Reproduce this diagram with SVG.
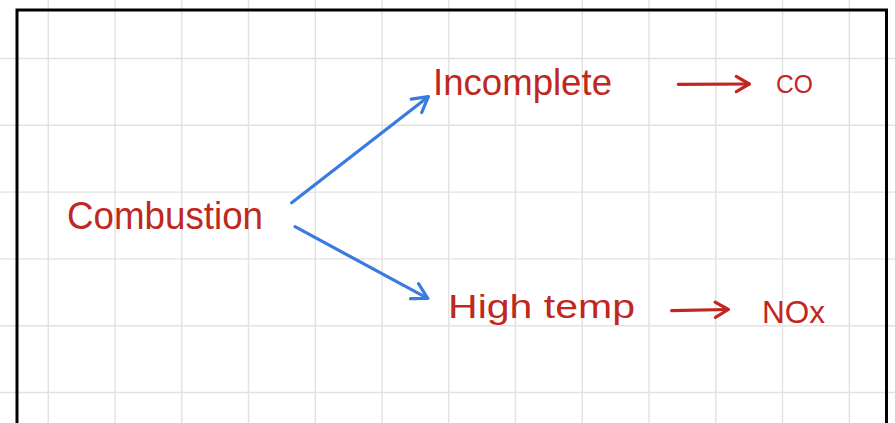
<svg xmlns="http://www.w3.org/2000/svg" width="895" height="423" viewBox="0 0 895 423">
  <style>
    .grid line { stroke: #e2e2e2; stroke-width: 1.4; }
    .lbl { fill: #c0281f; font-family: "Liberation Sans", Arial, sans-serif; }
    .blue { stroke: #3a7be0; stroke-width: 3.2; fill: none; stroke-linecap: round; stroke-linejoin: round; }
    .red { stroke: #c0281f; stroke-width: 3.2; fill: none; stroke-linecap: round; stroke-linejoin: round; }
  </style>
  <defs>
    <marker id="headBlue" markerUnits="userSpaceOnUse" orient="auto" markerWidth="40" markerHeight="40" refX="0" refY="0" viewBox="-20 -20 40 40" overflow="visible">
      <path d="M-15,-8.5 L0,0 L-15,8.5" fill="none" stroke="#3a7be0" stroke-width="3.2" stroke-linecap="round" stroke-linejoin="round"/>
    </marker>
    <marker id="headRed" markerUnits="userSpaceOnUse" orient="auto" markerWidth="40" markerHeight="40" refX="0" refY="0" viewBox="-20 -20 40 40" overflow="visible">
      <path d="M-13,-7.6 L0,0 L-13,7.6" fill="none" stroke="#c0281f" stroke-width="3.2" stroke-linecap="round" stroke-linejoin="round"/>
    </marker>
  </defs>
  <rect x="0" y="0" width="895" height="423" fill="#ffffff"/>
  <g class="grid">
    <line x1="48.3" y1="0" x2="48.3" y2="423"/>
    <line x1="115" y1="0" x2="115" y2="423"/>
    <line x1="181.8" y1="0" x2="181.8" y2="423"/>
    <line x1="248.5" y1="0" x2="248.5" y2="423"/>
    <line x1="315.3" y1="0" x2="315.3" y2="423"/>
    <line x1="382" y1="0" x2="382" y2="423"/>
    <line x1="448.8" y1="0" x2="448.8" y2="423"/>
    <line x1="515.5" y1="0" x2="515.5" y2="423"/>
    <line x1="582.3" y1="0" x2="582.3" y2="423"/>
    <line x1="649" y1="0" x2="649" y2="423"/>
    <line x1="715.8" y1="0" x2="715.8" y2="423"/>
    <line x1="782.5" y1="0" x2="782.5" y2="423"/>
    <line x1="849.3" y1="0" x2="849.3" y2="423"/>
    <line x1="0" y1="58.5" x2="895" y2="58.5"/>
    <line x1="0" y1="125.3" x2="895" y2="125.3"/>
    <line x1="0" y1="192.1" x2="895" y2="192.1"/>
    <line x1="0" y1="258.9" x2="895" y2="258.9"/>
    <line x1="0" y1="325.7" x2="895" y2="325.7"/>
    <line x1="0" y1="392.5" x2="895" y2="392.5"/>
  </g>
  <rect x="17" y="10" width="869.5" height="430" fill="none" stroke="#000000" stroke-width="3"/>
  <g id="connectors">
    <line class="blue" x1="291.7" y1="202.7" x2="428.3" y2="96.7" marker-end="url(#headBlue)"/>
    <line class="blue" x1="295" y1="226.7" x2="427.7" y2="298.3" marker-end="url(#headBlue)"/>
    <line class="red" x1="678.3" y1="84.3" x2="749.3" y2="84" marker-end="url(#headRed)"/>
    <line class="red" x1="671.7" y1="310.7" x2="728.3" y2="309.5" marker-end="url(#headRed)"/>
  </g>
  <g id="combustion">
    <text class="lbl" x="67" y="229" font-size="38" textLength="196" lengthAdjust="spacingAndGlyphs">Combustion</text>
  </g>
  <g id="incomplete">
    <text class="lbl" x="433" y="95" font-size="36" textLength="179" lengthAdjust="spacingAndGlyphs">Incomplete</text>
  </g>
  <g id="co">
    <text class="lbl" x="776" y="93" font-size="26" textLength="37" lengthAdjust="spacingAndGlyphs">CO</text>
  </g>
  <g id="high-temp">
    <text class="lbl" x="448" y="318" font-size="33" textLength="187" lengthAdjust="spacingAndGlyphs">High temp</text>
  </g>
  <g id="nox">
    <text class="lbl" x="762" y="323" font-size="32" textLength="63" lengthAdjust="spacingAndGlyphs">NOx</text>
  </g>
</svg>
